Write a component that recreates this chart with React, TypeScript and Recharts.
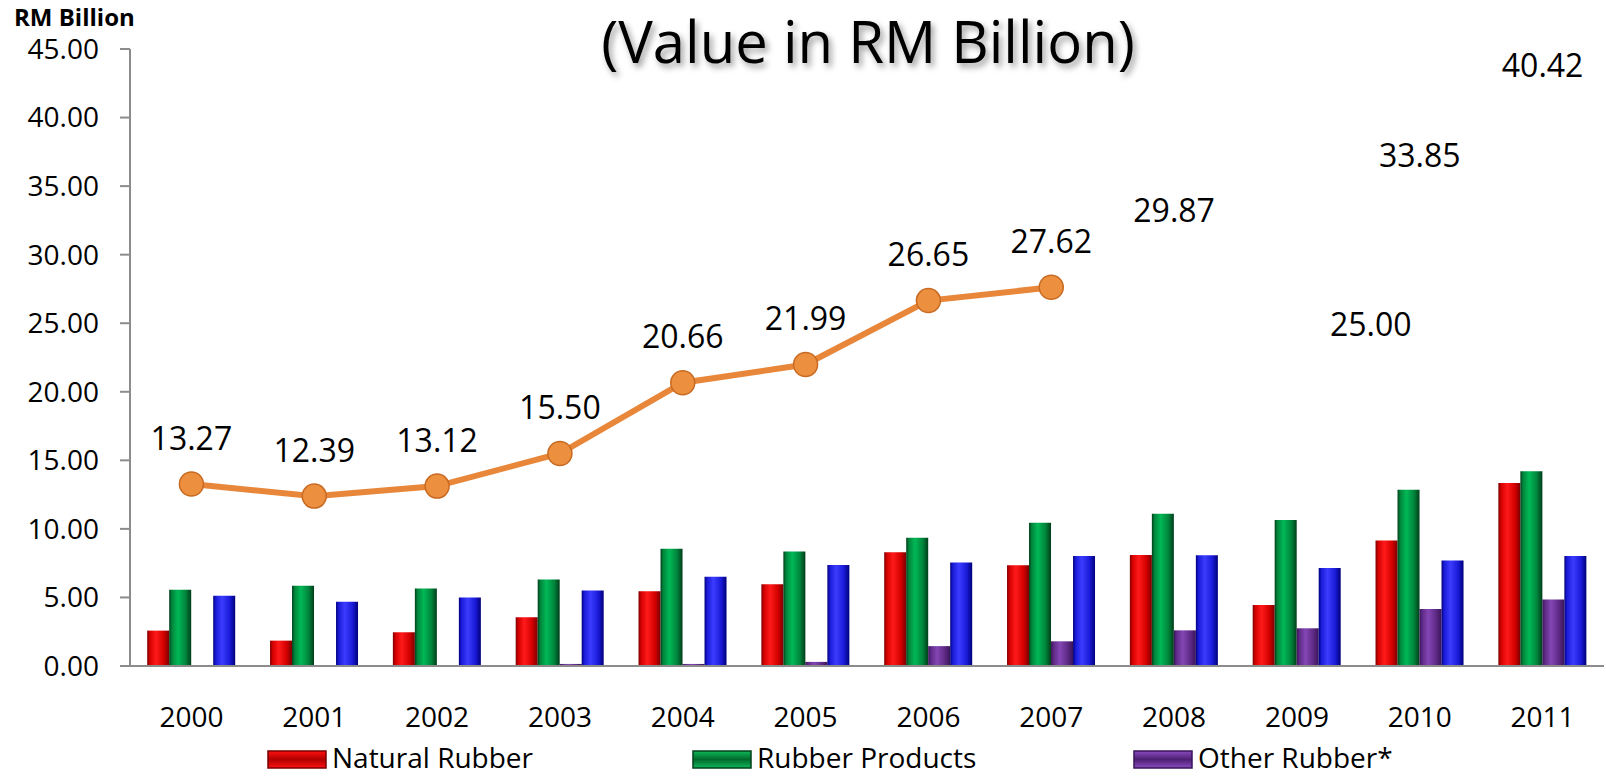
import React from 'react';
import { ComposedChart, Bar, Line, XAxis, YAxis, LabelList } from 'recharts';

const years = ['2000', '2001', '2002', '2003', '2004', '2005', '2006', '2007', '2008', '2009', '2010', '2011'];
const naturalRubber = [2.58, 1.85, 2.46, 3.55, 5.45, 5.97, 8.3, 7.35, 8.1, 4.45, 9.15, 13.35];
const rubberProducts = [5.56, 5.85, 5.66, 6.3, 8.55, 8.35, 9.35, 10.45, 11.1, 10.65, 12.85, 14.2];
const otherRubber = [0, 0, 0, 0.15, 0.15, 0.3, 1.45, 1.8, 2.6, 2.75, 4.15, 4.85];
const rubberwoodProducts = [5.13, 4.69, 5.0, 5.5, 6.51, 7.37, 7.55, 8.02, 8.07, 7.15, 7.7, 8.02];
const totals = [13.27, 12.39, 13.12, 15.5, 20.66, 21.99, 26.65, 27.62, 29.87, 25.0, 33.85, 40.42];
const lastDrawnYear = '2007';
const yTicks = [0, 5, 10, 15, 20, 25, 30, 35, 40, 45];

const FONT = "'Open Sans', sans-serif";
const W = 1606;
const H = 776;

const lastIdx = years.indexOf(lastDrawnYear);
const data = years.map((year, i) => ({
  year,
  natural: naturalRubber[i],
  products: rubberProducts[i],
  other: otherRubber[i],
  wood: rubberwoodProducts[i],
  total: totals[i],
  totalLine: i <= lastIdx ? totals[i] : null,
}));
const edgeTicks = years.map((_, i) => i).concat([years.length]);

const TotalLabel = (props: any) => {
  const { x, y, value, index } = props;
  if (value == null || x == null || y == null) return null;
  const right = years[index] === '2009';
  return (
    <text
      x={right ? x + 33 : x}
      y={right ? y : y - 47}
      textAnchor={right ? 'start' : 'middle'}
      dominantBaseline="central"
      fontSize={32}
      fontFamily={FONT}
      fill="#000"
    >
      {Number(value).toFixed(2)}
    </text>
  );
};

const grad = (id: string, dark: string, mid: string, bright: string) => (
  <linearGradient id={id} x1="0" y1="0" x2="1" y2="0">
    <stop offset="0" stopColor={dark} />
    <stop offset="0.12" stopColor={mid} />
    <stop offset="0.4" stopColor={bright} />
    <stop offset="0.75" stopColor={mid} />
    <stop offset="1" stopColor={dark} />
  </linearGradient>
);

const vgrad = (id: string, dark: string, bright: string) => (
  <linearGradient id={id} x1="0" y1="0" x2="0" y2="1">
    <stop offset="0" stopColor={bright} />
    <stop offset="0.5" stopColor={dark} />
    <stop offset="1" stopColor={bright} />
  </linearGradient>
);

const legendItems = [
  { label: 'Natural Rubber', fill: 'url(#lgRed)', border: '#7a0000', x: 268 },
  { label: 'Rubber Products', fill: 'url(#lgGreen)', border: '#00401a', x: 693 },
  { label: 'Other Rubber*', fill: 'url(#lgPurple)', border: '#3a1458', x: 1134 },
];

export default function App() {
  return (
    <div style={{ position: 'absolute', left: 0, top: 0, width: W, height: H, background: '#fff' }}>
      <svg width={0} height={0} style={{ position: 'absolute' }}>
        <defs>
          {grad('gRed', '#7a0000', '#d40000', '#ff1a1a')}
          {grad('gGreen', '#003d18', '#00853c', '#00b856')}
          {grad('gPurple', '#3a1458', '#5e2a86', '#8446b4')}
          {grad('gBlue', '#00007a', '#1a1ad8', '#3c3cff')}
          {vgrad('lgRed', '#b00000', '#ff1010')}
          {vgrad('lgGreen', '#006a2c', '#10b85a')}
          {vgrad('lgPurple', '#4e2072', '#8a4cc0')}
          <filter id="titleShadow" x="-10%" y="-30%" width="120%" height="160%">
            <feDropShadow dx="3" dy="4" stdDeviation="3" floodColor="#000" floodOpacity="0.4" />
          </filter>
        </defs>
      </svg>
      <ComposedChart
        width={W}
        height={H}
        data={data}
        margin={{ top: 49, right: 2, left: 0, bottom: 38 }}
        barCategoryGap="14%"
        barGap={0}
      >
        <XAxis
          xAxisId="a"
          type="number"
          domain={[0, years.length]}
          ticks={edgeTicks}
          tick={false}
          tickSize={10}
          tickLine={{ stroke: '#8c8c8c', strokeWidth: 2 }}
          axisLine={{ stroke: '#8c8c8c', strokeWidth: 2 }}
          height={12}
          allowDataOverflow
        />
        <XAxis
          xAxisId="b"
          dataKey="year"
          axisLine={false}
          tickLine={false}
          tickSize={0}
          tickMargin={29}
          height={60}
          interval={0}
          tick={{ fontSize: 28, fill: '#000', fontFamily: FONT }}
        />
        <YAxis
          domain={[0, 45]}
          ticks={yTicks}
          width={130}
          tickSize={10}
          tickMargin={21}
          tickFormatter={(v: number) => v.toFixed(2)}
          tick={{ fontSize: 28, fill: '#000', fontFamily: FONT }}
          tickLine={{ stroke: '#8c8c8c', strokeWidth: 2 }}
          axisLine={{ stroke: '#8c8c8c', strokeWidth: 2 }}
          allowDataOverflow
        />
        <Bar xAxisId="b" dataKey="natural" name="Natural Rubber" fill="url(#gRed)" isAnimationActive={false} />
        <Bar xAxisId="b" dataKey="products" name="Rubber Products" fill="url(#gGreen)" isAnimationActive={false} />
        <Bar xAxisId="b" dataKey="other" name="Other Rubber*" fill="url(#gPurple)" isAnimationActive={false} />
        <Bar xAxisId="b" dataKey="wood" name="Rubberwood Products" fill="url(#gBlue)" isAnimationActive={false} />
        <Line
          xAxisId="b"
          dataKey="totalLine"
          name="Total"
          stroke="#e8873a"
          strokeWidth={6}
          dot={{ r: 12, fill: '#ec9040', stroke: '#c86a22', strokeWidth: 1.5 }}
          activeDot={false}
          connectNulls={false}
          isAnimationActive={false}
        />
        <Line
          xAxisId="b"
          dataKey="total"
          name="Total labels"
          stroke="none"
          dot={false}
          activeDot={false}
          legendType="none"
          isAnimationActive={false}
        >
          <LabelList dataKey="total" content={TotalLabel} />
        </Line>
      </ComposedChart>
      <svg
        width={W}
        height={H}
        style={{ position: 'absolute', left: 0, top: 0, pointerEvents: 'none' }}
      >
        <text x={868} y={63} textAnchor="middle" fontSize={58} fontFamily={FONT} fill="#000" filter="url(#titleShadow)">
          (Value in RM Billion)
        </text>
        <text x={14} y={26} fontSize={24} fontWeight="bold" fontFamily={FONT} fill="#000">
          RM Billion
        </text>
        {legendItems.map((it) => (
          <g key={it.label}>
            <rect x={it.x} y={751} width={58} height={17} fill={it.fill} stroke={it.border} strokeWidth={1.5} />
            <text x={it.x + 64} y={768} fontSize={28} fontFamily={FONT} fill="#000">
              {it.label}
            </text>
          </g>
        ))}
      </svg>
    </div>
  );
}
